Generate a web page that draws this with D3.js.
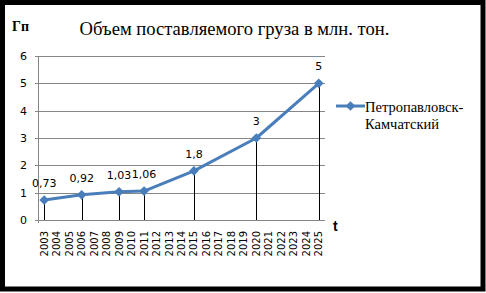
<!DOCTYPE html>
<html><head><meta charset="utf-8">
<script src="https://cdn.jsdelivr.net/npm/d3@7"></script>
<style>body{margin:0;background:#fff}svg{display:block}</style>
</head><body>
<svg id="c" width="486" height="293"></svg>
<script>
const years = ["2003","2004","2005","2006","2007","2008","2009","2010","2011","2012","2013","2014","2015","2016","2017","2018","2019","2020","2021","2022","2023","2024","2025"];
const pointYears = ["2003","2006","2009","2011","2015","2020","2025"];
const pointValues = [0.73, 0.92, 1.03, 1.06, 1.8, 3, 5];
const pointLabels = ["0,73","0,92","1,03","1,06","1,8","3","5"];
const yTicks = [0,1,2,3,4,5,6];
const titleText = "Объем поставляемого груза в млн. тон.";
const seriesName = ["Петропавловск-","Камчатский"];

const svg = d3.select("#c");
svg.append("rect").attr("x",2.5).attr("y",2.5).attr("width",480.5).attr("height",286.5)
  .attr("fill","#fff").attr("stroke","#000").attr("stroke-width",5);

const x = d3.scaleBand().domain(years).range([38,325]);
const y = d3.scaleLinear().domain([0,6]).range([220,56]);
const cx = d => x(d)+x.bandwidth()/2;

svg.append("g").selectAll("line").data(yTicks).join("line")
  .attr("x1",35).attr("x2",325).attr("y1",d=>Math.round(y(d))+0.5).attr("y2",d=>Math.round(y(d))+0.5)
  .attr("stroke","#868686").attr("stroke-width",1);
svg.append("line").attr("x1",38.5).attr("x2",38.5).attr("y1",56).attr("y2",223)
  .attr("stroke","#868686");
svg.append("g").selectAll("text").data(yTicks).join("text")
  .attr("x",27).attr("y",d=>y(d)+4).attr("text-anchor","end")
  .attr("font-family","DejaVu Sans").attr("font-size",11).attr("fill","#000").text(d=>d);
svg.append("g").selectAll("text").data(years).join("text")
  .attr("transform",d=>`translate(${cx(d)+3.5},231) rotate(-90)`)
  .attr("text-anchor","end").attr("font-family","DejaVu Sans").attr("font-size",10).attr("fill","#000").text(d=>d);

const pts = pointYears.map((d,i)=>({yr:d,v:pointValues[i],lab:pointLabels[i]}));
svg.append("g").selectAll("line").data(pts).join("line")
  .attr("x1",d=>Math.round(cx(d.yr))+0.5).attr("x2",d=>Math.round(cx(d.yr))+0.5)
  .attr("y1",d=>y(d.v)).attr("y2",220).attr("stroke","#000").attr("stroke-width",1);
svg.append("path").datum(pts)
  .attr("d",d3.line().x(d=>cx(d.yr)).y(d=>y(d.v)))
  .attr("fill","none").attr("stroke","#4A7EBB").attr("stroke-width",3).attr("stroke-linejoin","round");
const diamond = d3.symbol().type(d3.symbolDiamond2).size(60);
svg.append("g").selectAll("path").data(pts).join("path")
  .attr("transform",d=>`translate(${cx(d.yr)},${y(d.v)})`).attr("d",diamond).attr("fill","#4A7EBB");
svg.append("g").selectAll("text").data(pts).join("text")
  .attr("x",d=>cx(d.yr)).attr("y",d=>y(d.v)-13).attr("text-anchor","middle")
  .attr("font-family","DejaVu Sans").attr("font-size",11).attr("fill","#000").text(d=>d.lab);

svg.append("text").attr("x",234.5).attr("y",35).attr("text-anchor","middle")
  .attr("font-family","'Liberation Serif', 'Times New Roman', serif").attr("font-size",18.6).text(titleText);
svg.append("text").attr("x",12).attr("y",31)
  .attr("font-family","'Liberation Serif', serif").attr("font-weight","bold").attr("font-size",14).text("Гп");
svg.append("text").attr("x",333).attr("y",231)
  .attr("font-family","Liberation Sans").attr("font-weight","bold").attr("font-size",14).text("t");

svg.append("line").attr("x1",336).attr("x2",365).attr("y1",106).attr("y2",106)
  .attr("stroke","#4A7EBB").attr("stroke-width",3);
svg.append("path").attr("transform","translate(350.5,106)").attr("d",diamond).attr("fill","#4A7EBB");
svg.append("g").selectAll("text").data(seriesName).join("text")
  .attr("x",365).attr("y",(d,i)=>112+i*16.5)
  .attr("font-family","'Liberation Serif', 'Times New Roman', serif").attr("font-size",14.5).text(d=>d);
</script>
</body></html>
